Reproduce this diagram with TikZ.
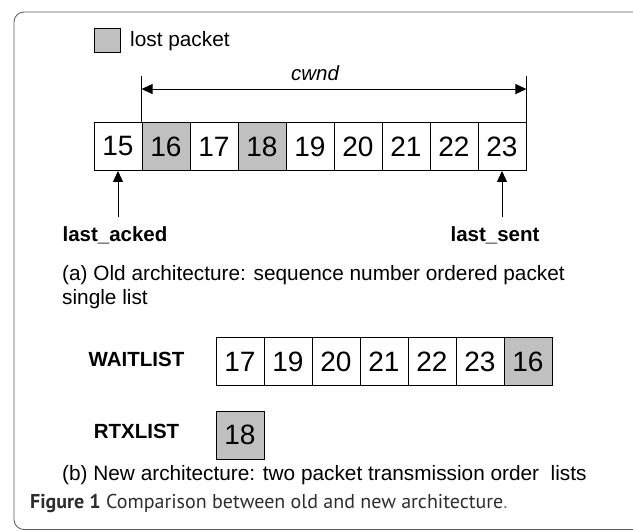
\documentclass[tikz,border=0pt]{standalone}
\usepackage{fontspec}
\setmainfont{Liberation Sans}
\newfontfamily\capfont{PT Sans}
\usetikzlibrary{arrows.meta}
\definecolor{lostgray}{RGB}{192,192,192}
\definecolor{framegray}{RGB}{90,90,90}
\definecolor{capgray}{RGB}{45,45,45}
\tikzset{
  cell/.style={draw, line width=0.9pt, minimum size=48pt, inner sep=0pt,
    font=\fontsize{28}{30}\selectfont},
  tag/.style={font=\fontsize{20.5}{22}\selectfont\bfseries, anchor=base},
  note/.style={font=\fontsize{20.8}{23.5}\selectfont, anchor=base west, inner sep=0pt, align=left},
  arr/.style={-{Triangle[length=11pt,width=10pt]}, line width=0.9pt},
  span/.style={{Triangle[length=11pt,width=10pt]}-{Triangle[length=11pt,width=10pt]}, line width=0.9pt}
}
\begin{document}
\begin{tikzpicture}[x=1pt,y=-1pt]
        \useasboundingbox (0,0) rectangle (633,531);
        \draw[framegray, line width=0.8pt, rounded corners=10pt] (14,12) rectangle (660,529.5);

        % legend
        \node[draw, line width=0.9pt, fill=lostgray, minimum width=26pt, minimum height=24pt, inner sep=0pt] (key) at (107,40) {};
        \node[note] (keytext) at (130,46.7) {lost packet};

        % old architecture: one list
        \foreach \n/\f [count=\i from 0] in {15/white,16/lostgray,17/white,18/lostgray,19/white,20/white,21/white,22/white,23/white}
            \node[cell, fill=\f] (c\n) at (118+48*\i,146.5) {\n};

        \coordinate (wl) at ([yshift=46.5pt]c16.north west);
        \coordinate (wr) at ([yshift=46.5pt]c23.north east);
        \draw[line width=1.3pt] (c16.north west) -- (wl);
        \draw[line width=1.3pt] (c23.north east) -- (wr);
        \draw[span] ([yshift=-13.5pt]wl) -- ([yshift=-13.5pt]wr);
        \node[font=\fontsize{20.5}{22}\selectfont\itshape, anchor=base] (cwnd) at (315,80) {cwnd};

        \node[tag] (acked) at (115,241.5) {last\_acked};
        \node[tag] (sent) at (495,241.5) {last\_sent};
        \draw[arr] ([yshift=6pt]c15.south |- acked.north) -- (c15.south);
        \draw[arr] ([yshift=6pt]c23.south |- sent.north) -- (c23.south);

        \node[note] (capa) at (62,304.2) {(a) Old architecture: sequence number ordered packet\\single list};

        % new architecture: two lists
        \node[tag] (wait) at (136.5,366) {WAITLIST};
        \foreach \n/\f [count=\i from 0] in {17/white,19/white,20/white,21/white,22/white,23/white,16/lostgray}
            \node[cell, fill=\f] (w\n) at (240+48*\i,361.5) {\n};

        \node[tag] (rtx) at (136.5,438) {RTXLIST};
        \node[cell, fill=lostgray] (r18) at (240,435) {18};

        \node[note] (capb) at (62,480) {(b) New architecture: two packet transmission order\ \ lists};

        \node[anchor=base west, inner sep=0pt, text=capgray, font=\capfont\fontsize{20}{22}\selectfont] (fig) at (30,508)
            {\textbf{Figure 1} Comparison between old and new architecture{\color{gray}.}};
    \end{tikzpicture}
\end{document}
